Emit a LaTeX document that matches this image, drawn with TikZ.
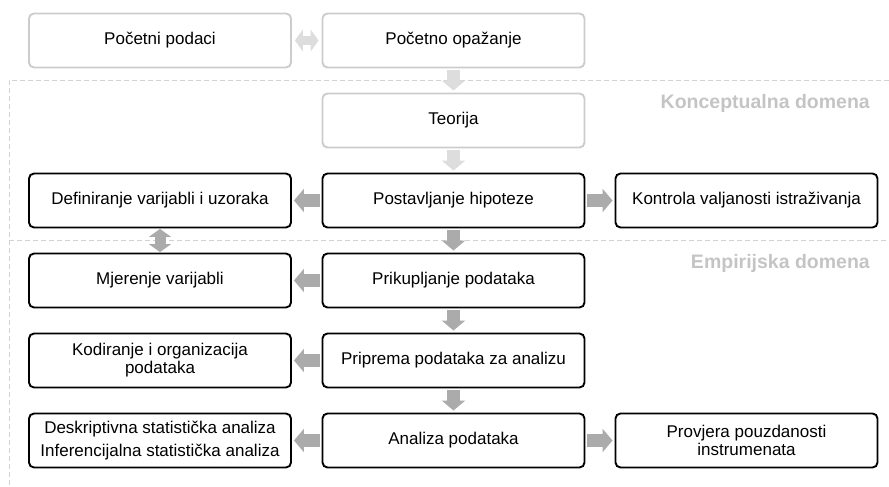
\documentclass[tikz,border=0pt]{standalone}
\usepackage{fontspec}
\setmainfont{Liberation Sans}
\usetikzlibrary{arrows.meta}
\definecolor{lightborder}{HTML}{CCCCCC}
\definecolor{lightarrow}{HTML}{DDDDDD}
\definecolor{darkarrow}{HTML}{ABABAB}
\definecolor{dashcol}{HTML}{D2D2D2}
\definecolor{domaincol}{HTML}{C4C4C4}
\tikzset{
  box/.style={draw=black, line width=1.9pt, rounded corners=5pt, minimum width=262pt, minimum height=54pt,
    inner sep=0pt, align=center, font=\fontsize{17}{18}\selectfont, fill=white},
  lightbox/.style={box, draw=lightborder},
  blockarrow/.style={line width=13pt, draw=#1, -{Triangle[width=23pt,length=10pt]}, shorten <=2pt, shorten >=2pt},
  dblarrow/.style={line width=11pt, draw=#1, {Triangle[width=22pt,length=8pt]}-{Triangle[width=22pt,length=8pt]}},
  domainlabel/.style={text=domaincol, font=\bfseries\fontsize{19.5}{20}\selectfont, anchor=east, inner sep=0pt},
  sepline/.style={draw=dashcol, line width=0.8pt, dash pattern=on 5pt off 3pt}
}
\begin{document}
\begin{tikzpicture}[x=1pt,y=-1pt]
\useasboundingbox (0,0) rectangle (889,487);
% separators
\coordinate (s1a) at (9,80); \coordinate (s1b) at (889,80);
\coordinate (s2a) at (9,240); \coordinate (s2b) at (889,240);
\coordinate (s3) at (9,487);
\draw[sepline] (s1b) -- (s1a) -- (s3);
\draw[sepline] (s2a) -- (s2b);
\node[domainlabel] (kd) at (870,103) {Konceptualna domena};
\node[domainlabel] (ed) at (870,263) {Empirijska domena};
% boxes
\node[lightbox] (pp) at (160,40.5) {Početni podaci};
\node[lightbox] (po) at (453.5,40.5) {Početno opažanje};
\node[lightbox] (te) at (453.5,120.5) {Teorija};
\node[box] (dv) at (160,200.5) {Definiranje varijabli i uzoraka};
\node[box] (ph) at (453.5,200.5) {Postavljanje hipoteze};
\node[box] (kv) at (746.5,200.5) {Kontrola valjanosti istraživanja};
\node[box] (mv) at (160,280.5) {Mjerenje varijabli};
\node[box] (pk) at (453.5,280.5) {Prikupljanje podataka};
\node[box, font=\fontsize{17}{18}\selectfont] (ko) at (160,360.5) {Kodiranje i organizacija\\podataka};
\node[box] (pr) at (453.5,360.5) {Priprema podataka za analizu};
\node[box, font=\fontsize{17}{22.5}\selectfont] (ds) at (160,440.5) {Deskriptivna statistička analiza\\Inferencijalna statistička analiza};
\node[box] (an) at (453.5,440.5) {Analiza podataka};
\node[box, font=\fontsize{17}{18}\selectfont] (pi) at (746.5,440.5) {Provjera pouzdanosti\\instrumenata};
% arrows
\draw[dblarrow=lightarrow, line width=9pt, shorten <=3pt, shorten >=3pt] (pp) -- (po);
\draw[blockarrow=lightarrow] (po) -- (te);
\draw[blockarrow=lightarrow] (te) -- (ph);
\draw[blockarrow=darkarrow] (ph) -- (dv);
\draw[blockarrow=darkarrow] (ph) -- (kv);
\draw[dblarrow=darkarrow, shorten <=0.5pt, shorten >=0.5pt] (dv) -- (mv);
\draw[blockarrow=darkarrow] (ph) -- (pk);
\draw[blockarrow=darkarrow] (pk) -- (mv);
\draw[blockarrow=darkarrow] (pk) -- (pr);
\draw[blockarrow=darkarrow] (pr) -- (ko);
\draw[blockarrow=darkarrow] (pr) -- (an);
\draw[blockarrow=darkarrow] (an) -- (ds);
\draw[blockarrow=darkarrow] (an) -- (pi);
\end{tikzpicture}
\end{document}
